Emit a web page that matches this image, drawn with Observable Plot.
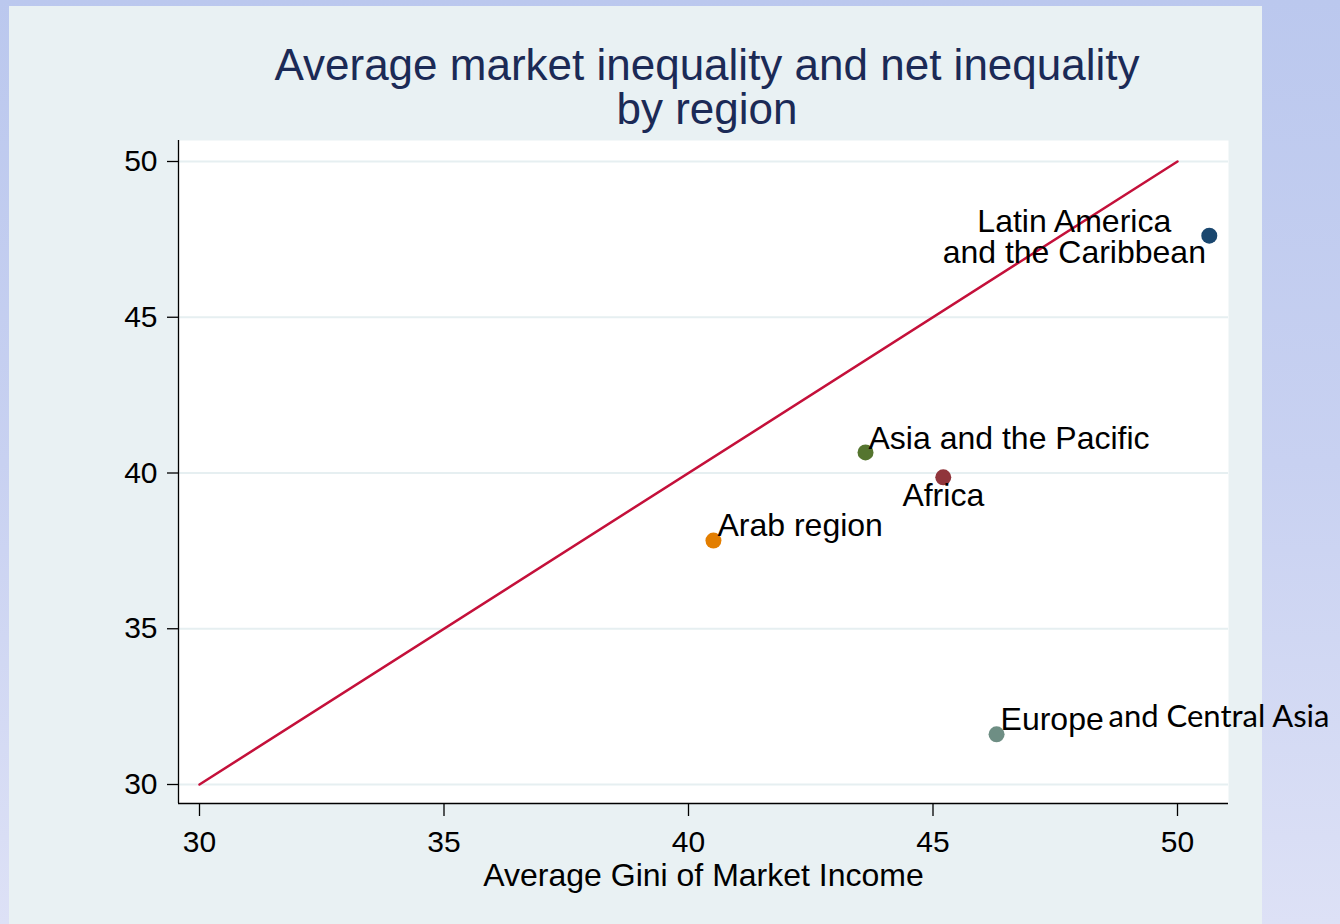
<!DOCTYPE html>
<html>
<head>
<meta charset="utf-8">
<script src="https://cdn.jsdelivr.net/npm/d3@7"></script>
<script src="https://cdn.jsdelivr.net/npm/@observablehq/plot@0.6"></script>
<style>
  html, body { margin: 0; padding: 0; }
  body {
    width: 1340px; height: 924px; overflow: hidden; position: relative;
    background: linear-gradient(to bottom, #bbc8ee 0%, #c8d1f1 50%, #dde1f6 100%);
    font-family: "Liberation Sans", Arial, sans-serif;
  }
  #panel {
    position: absolute; left: 9px; top: 6px; width: 1253px; height: 918px;
    background: #e9f1f3;
  }
  #title {
    position: absolute; left: 0; top: 43px; width: 1414px; text-align: center;
    font-size: 44px; line-height: 44px; color: #1b2a56;
    font-family: "Liberation Sans", Arial, sans-serif;
  }
  #chart { position: absolute; left: 0; top: 0; }
</style>
</head>
<body>
<div id="panel"></div>
<div id="title">Average market inequality and net inequality<br>by region</div>
<div id="chart"></div>
<script>
// Data
const regions = ["Latin America\nand the Caribbean", "Asia and the Pacific", "Africa", "Arab region", "Europe and Central Asia"];
const giniMarket = [50.65, 43.62, 45.21, 40.51, 46.30];
const giniNet = [47.62, 40.66, 39.86, 37.83, 31.61];
const regionColors = ["#1a476f", "#55752f", "#90353b", "#e37e00", "#6e8e84"];
const xTicks = [30, 35, 40, 45, 50];
const yTicks = [30, 35, 40, 45, 50];
const equalityLine = [30, 50];

const data = regions.map((r, i) => ({region: r, market: giniMarket[i], net: giniNet[i]}));
const lineData = equalityLine.map(v => ({x: v, y: v}));

const W = 1340, H = 924;
const mL = 178, mR = 112, mT = 140, mB = 121;
// pixel positions of 30 and 50 on each axis in the reference
const x30 = 199, x50 = 1177, y50 = 161, y30 = 784;
const pxX = (x50 - x30) / 20, pxY = (y30 - y50) / 20;
const xDomain = [30 - (x30 - mL) / pxX, 50 + ((W - mR) - x50) / pxX];
const yDomain = [30 - ((H - mB) - y30) / pxY, 50 + (y50 - mT) / pxY];

const font = "Liberation Sans, Arial, sans-serif";
const lab = (name) => data.filter(d => d.region === name);
const firstWord = d => d.region.split(" ")[0];
const restWords = d => d.region.slice(d.region.indexOf(" ") + 1);

const chart = Plot.plot({
  width: W, height: H,
  marginLeft: mL, marginRight: mR, marginTop: mT, marginBottom: mB,
  style: {background: "transparent", fontFamily: font, overflow: "visible"},
  x: {domain: xDomain},
  y: {domain: yDomain},
  color: {domain: regions, range: regionColors},
  marks: [
    Plot.frame({fill: "white", stroke: null}),
    Plot.ruleY(yTicks, {stroke: "#e6eff1", strokeWidth: 2}),
    Plot.ruleX([xDomain[0]], {stroke: "black", strokeWidth: 1.3}),
    Plot.ruleY([yDomain[0]], {stroke: "black", strokeWidth: 1.3}),
    Plot.axisY({ticks: yTicks, tickSize: 11, tickPadding: 10, fontSize: 30, label: null, tickFormat: d => d, stroke: "black", strokeWidth: 1.3, color: "black"}),
    Plot.axisX({ticks: xTicks, tickSize: 13, tickPadding: 14, fontSize: 30, label: null, tickFormat: d => d, stroke: "black", strokeWidth: 1.3, color: "black"}),
    Plot.text(["Average Gini of Market Income"], {frameAnchor: "bottom", lineAnchor: "middle", dy: 72, fontSize: 32, fill: "black"}),
    Plot.line(lineData, {x: "x", y: "y", stroke: "#c4103a", strokeWidth: 2.5}),
    Plot.dot(data, {x: "market", y: "net", fill: "region", r: 8}),
    Plot.text(lab(regions[0]), {x: "market", y: "net", text: "region", textAnchor: "middle", dx: -135, dy: 2, fontSize: 32, lineHeight: 0.95, fill: "black"}),
    Plot.text(lab(regions[1]), {x: "market", y: "net", text: "region", textAnchor: "start", dx: 3, dy: -14, fontSize: 32, fill: "black"}),
    Plot.text(lab(regions[2]), {x: "market", y: "net", text: "region", textAnchor: "middle", dx: 0, dy: 18, fontSize: 32, fill: "black"}),
    Plot.text(lab(regions[3]), {x: "market", y: "net", text: "region", textAnchor: "start", dx: 4, dy: -15, fontSize: 32, fill: "black"}),
    Plot.text(lab(regions[4]), {x: "market", y: "net", text: firstWord, textAnchor: "start", dx: 4, dy: -15, fontSize: 32, fill: "black"}),
    Plot.text(lab(regions[4]), {x: "market", y: "net", text: restWords, textAnchor: "start", dx: 112, dy: -17, fontSize: 31, fontFamily: "Lato, sans-serif", fill: "black"})
  ]
});
document.getElementById("chart").appendChild(chart);
</script>
</body>
</html>
